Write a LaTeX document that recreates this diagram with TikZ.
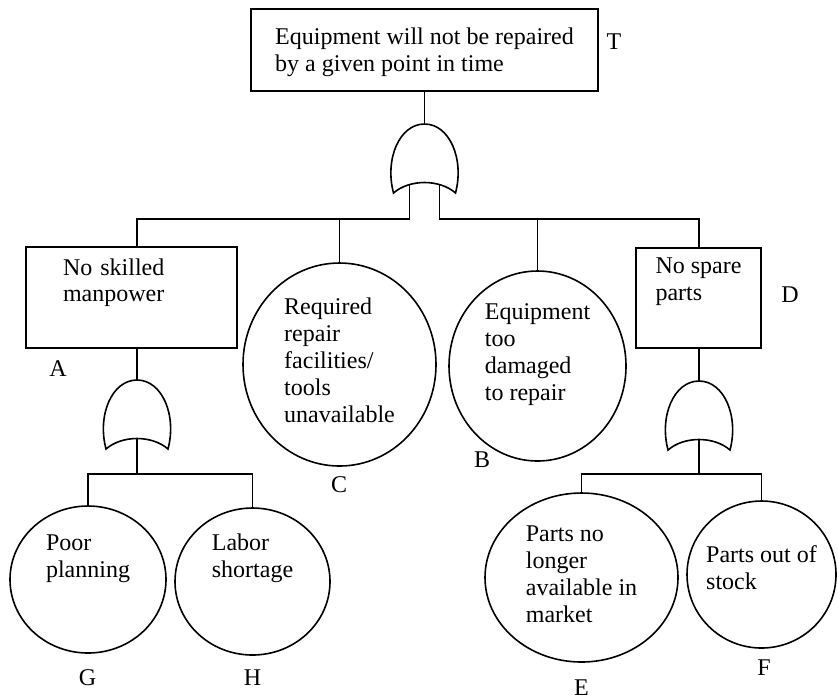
\documentclass[tikz,border=0pt]{standalone}
\usepackage{fontspec}
\setmainfont{Liberation Serif}
\usetikzlibrary{shapes.geometric}

\tikzset{
  orgate/.pic={
    \draw (-31,69) .. controls (-40,35) and (-25,0) .. (0,0)
      .. controls (25,0) and (40,35) .. (31,69)
      .. controls (15,55) and (-15,55) .. cycle;
    \coordinate (-top) at (0,0);
    \coordinate (-out) at (0,58.5);
    \coordinate (-l) at (-15,60.5);
    \coordinate (-r) at (15,60.5);
  }
}

\begin{document}
\begin{tikzpicture}[x=0.5pt,y=-0.5pt,line width=0.8pt,
        font=\fontsize{12}{13.4}\selectfont,
        event box/.style={rectangle,draw,align=left},
        basic event/.style={ellipse,draw,align=left,inner xsep=-2pt,inner ysep=0pt,text depth=3pt},
        letter/.style={inner sep=0pt}]
        \useasboundingbox (0,0) rectangle (838,698);
        \node[event box,minimum width=173.5pt,minimum height=41pt,text height=24pt,text depth=3pt] (T) at (424.5,50) {Equipment will not be repaired\\by a given point in time};
        \node[event box,minimum width=105.5pt,minimum height=50.5pt,text width=68.5pt,text height=9pt,text depth=31.5pt] (A) at (131.5,297.5) {No skilled\\manpower};
        \node[event box,minimum width=62.5pt,minimum height=50pt,text height=5pt,text depth=3pt] (D) at (698.5,298) {No spare\\parts};
        \node[basic event,minimum width=96.5pt,minimum height=101.5pt,text height=60.5pt] (C) at (339.5,364.5) {Required\\repair\\facilities/\\tools\\unavailable};
        \node[basic event,minimum width=88.5pt,minimum height=95pt,text height=37pt] (B) at (537.5,366) {Equipment\\too\\damaged\\to repair};
        \node[basic event,minimum width=78pt,minimum height=73.5pt,text height=0.5pt] (G) at (88,579.5) {Poor\\planning};
        \node[basic event,minimum width=77.5pt,minimum height=73.5pt,text height=0.5pt,text depth=5pt] (H) at (252.5,581.5) {Labor\\shortage};
        \node[basic event,minimum width=96.5pt,minimum height=84.5pt,text height=47.5pt] (E) at (581.5,577.5) {Parts no\\longer\\available in\\market};
        \node[basic event,minimum width=74.5pt,minimum height=73.5pt,text height=17.5pt] (F) at (761.5,574.5) {Parts out of\\stock};

        \node[letter] (labT) at (614,42) {T};
        \node[letter] (labA) at (58,368.5) {A};
        \node[letter] (labD) at (790,295) {D};
        \node[letter] (labB) at (482,460) {B};
        \node[letter] (labC) at (339,484.5) {C};
        \node[letter] (labG) at (87.5,677.5) {G};
        \node[letter] (labH) at (252.5,677.5) {H};
        \node[letter] (labE) at (581.5,687.5) {E};
        \node[letter] (labF) at (764,667.5) {F};

        \pic (gT) at (424.5,124) {orgate};
        \pic (gA) at (137,380) {orgate};
        \pic (gD) at (699,381) {orgate};
        \coordinate (busT) at (0,219);
        \coordinate (busA) at (137,474);
        \coordinate (busD) at (699,474);

        \draw (T.south -| gT-top) -- (gT-top);
        \draw (gT-l) -- (gT-l |- busT) -| (gA-top |- A.north);
        \draw (gT-r) -- (gT-r |- busT) -| (gD-top |- D.north);
        \draw (C.north) -- (C.north |- busT);
        \draw (B.north) -- (B.north |- busT);
        \draw (A.south -| gA-top) -- (gA-top);
        \draw (gA-out) -- (busA);
        \draw (G.north) |- (busA) -| (H.north);
        \draw (D.south -| gD-top) -- (gD-top);
        \draw (gD-out) -- (busD);
        \draw (E.north) |- (busD) -| (F.north);
        \end{tikzpicture}
\end{document}
